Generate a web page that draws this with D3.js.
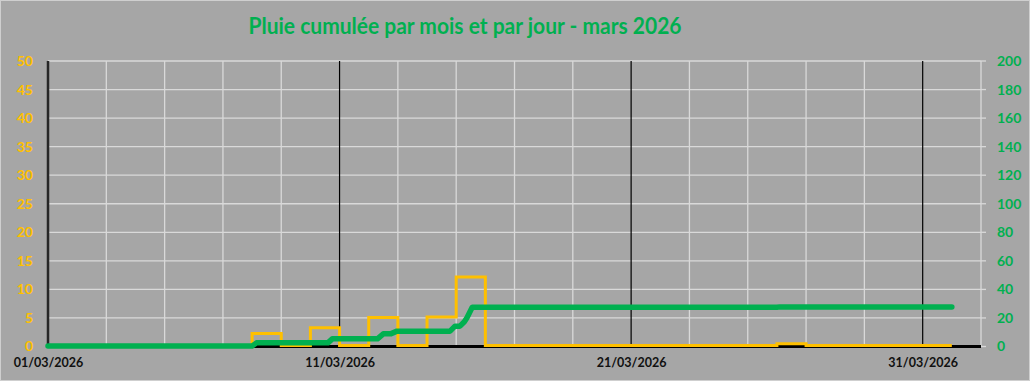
<!DOCTYPE html>
<html>
<head>
<meta charset="utf-8">
<script src="https://cdn.jsdelivr.net/npm/d3@7"></script>
<style>
  html, body { margin: 0; padding: 0; background: #a6a6a6; }
  svg { display: block; }
  text { font-family: Lato, "Open Sans", sans-serif; font-weight: bold; }
</style>
</head>
<body>
<svg id="chart"></svg>
<script>
// chart size
const width = 1030;
const height = 381;

// data
const titleText = 'Pluie cumulée par mois et par jour - mars 2026';
const dailyRain = [0, 0, 0, 0, 0, 0, 0, 2.1, 0, 3.1, 0, 4.9, 0, 5.0, 12.0,
    0, 0, 0, 0, 0, 0, 0, 0, 0, 0, 0.3, 0, 0, 0, 0, 0];
// cumulative rain: time in days since 01/03 and value in mm
const cumulTime = [0, 7.0, 7.15, 9.6, 9.75, 11.3, 11.5, 11.75, 11.97, 13.79, 13.96,
    14.13, 14.28, 14.37, 14.55, 25.0, 25.1, 31.0];
const cumulValue = [0, 0, 2.2, 2.2, 5.0, 5.0, 8.5, 8.5, 10.4, 10.4, 13.9,
    13.9, 17.0, 19.8, 27.1, 27.1, 27.4, 27.4];
const xTickDays = [0, 10, 20, 30];
const xTickLabels = ['01/03/2026', '11/03/2026', '21/03/2026', '31/03/2026'];
const leftTicks = d3.range(0, 55, 5);
const rightTicks = d3.range(0, 220, 20);

// plot area
const plot = { left: 48, right: 981, top: 61, bottom: 346.5 };

const xScale = d3.scaleLinear().domain([0, 32]).range([plot.left, plot.right]);
const yLeft = d3.scaleLinear().domain([0, 50]).range([plot.bottom, plot.top]);
const yRight = d3.scaleLinear().domain([0, 200]).range([plot.bottom, plot.top]);

const svg = d3.select('#chart')
    .attr('width', width)
    .attr('height', height);

// background + outer border
svg.append('rect')
    .attr('x', 0.5).attr('y', 0.5)
    .attr('width', width - 1).attr('height', height - 1)
    .attr('fill', '#a6a6a6')
    .attr('stroke', '#cfcfcf');

// title
svg.append('text')
    .attr('x', 465)
    .attr('y', 34)
    .attr('text-anchor', 'middle')
    .attr('font-size', 23)
    .attr('font-weight', 900)
    .attr('textLength', 433)
    .attr('lengthAdjust', 'spacingAndGlyphs')
    .attr('fill', '#00b050')
    .text(titleText);

// horizontal gridlines
svg.append('g')
    .selectAll('line')
    .data(leftTicks.filter(d => d > 0))
    .enter().append('line')
    .attr('x1', plot.left).attr('x2', plot.right)
    .attr('y1', d => yLeft(d)).attr('y2', d => yLeft(d))
    .attr('stroke', '#d9d9d9')
    .attr('stroke-width', 1.3);

// minor vertical gridlines every 2 days
svg.append('g')
    .selectAll('line')
    .data(d3.range(2, 32, 2).filter(d => d % 10 !== 0))
    .enter().append('line')
    .attr('x1', d => xScale(d)).attr('x2', d => xScale(d))
    .attr('y1', plot.top).attr('y2', plot.bottom)
    .attr('stroke', '#d9d9d9')
    .attr('stroke-width', 1.3);

// major vertical gridlines
svg.append('g')
    .selectAll('line')
    .data(xTickDays.filter(d => d > 0))
    .enter().append('line')
    .attr('x1', d => xScale(d)).attr('x2', d => xScale(d))
    .attr('y1', plot.top).attr('y2', plot.bottom)
    .attr('stroke', '#000')
    .attr('stroke-width', 1.2);

// right axis line with ticks
svg.append('line')
    .attr('x1', plot.right).attr('x2', plot.right)
    .attr('y1', plot.top).attr('y2', plot.bottom)
    .attr('stroke', '#d9d9d9')
    .attr('stroke-width', 1.3);
svg.append('g')
    .selectAll('line')
    .data(rightTicks)
    .enter().append('line')
    .attr('x1', plot.right).attr('x2', plot.right + 5)
    .attr('y1', d => yRight(d)).attr('y2', d => yRight(d))
    .attr('stroke', '#d9d9d9')
    .attr('stroke-width', 1.3);

// left axis line
svg.append('line')
    .attr('x1', plot.left).attr('x2', plot.left)
    .attr('y1', plot.top).attr('y2', plot.bottom + 1)
    .attr('stroke', '#262626')
    .attr('stroke-width', 2.5);

// bottom axis line
svg.append('line')
    .attr('x1', plot.left).attr('x2', plot.right)
    .attr('y1', plot.bottom).attr('y2', plot.bottom)
    .attr('stroke', '#000')
    .attr('stroke-width', 2.8);

// left axis labels
const leftAxis = svg.append('g')
    .attr('transform', `translate(${plot.left},0)`)
    .call(d3.axisLeft(yLeft).tickValues(leftTicks).tickSize(0).tickPadding(15));
leftAxis.select('.domain').remove();
leftAxis.selectAll('text')
    .attr('font-size', 14)
    .attr('font-family', 'Lato, sans-serif')
    .attr('fill', '#ffc000');

// right axis labels
const rightAxis = svg.append('g')
    .attr('transform', `translate(${plot.right},0)`)
    .call(d3.axisRight(yRight).tickValues(rightTicks).tickSize(0).tickPadding(16));
rightAxis.select('.domain').remove();
rightAxis.selectAll('text')
    .attr('font-size', 14)
    .attr('font-family', 'Lato, sans-serif')
    .attr('fill', '#00b050');

// bottom axis labels
const bottomAxis = svg.append('g')
    .attr('transform', `translate(0,${plot.bottom})`)
    .call(d3.axisBottom(xScale)
        .tickValues(xTickDays)
        .tickFormat((d, i) => xTickLabels[i])
        .tickSize(0)
        .tickPadding(12));
bottomAxis.select('.domain').remove();
bottomAxis.selectAll('text')
    .attr('font-size', 12.5)
    .attr('font-family', 'Lato, sans-serif')
    .attr('fill', '#111');

// daily rain as a step line (left axis)
const dailyPoints = dailyRain.map((v, i) => [i, v]);
dailyPoints.push([dailyRain.length, dailyRain[dailyRain.length - 1]]);

const stepLine = d3.line()
    .x(d => xScale(d[0]))
    .y(d => yLeft(d[1]) - 1)
    .curve(d3.curveStepAfter);

svg.append('path')
    .datum(dailyPoints)
    .attr('d', stepLine)
    .attr('fill', 'none')
    .attr('stroke', '#ffc000')
    .attr('stroke-width', 3);

// cumulative rain (right axis)
const cumulPoints = cumulTime.map((t, i) => [t, cumulValue[i]]);

const cumulLine = d3.line()
    .x(d => xScale(d[0]))
    .y(d => yRight(d[1]) - 0.5);

svg.append('path')
    .datum(cumulPoints)
    .attr('d', cumulLine)
    .attr('fill', 'none')
    .attr('stroke', '#00b050')
    .attr('stroke-width', 5.5)
    .attr('stroke-linecap', 'round')
    .attr('stroke-linejoin', 'round');
</script>
</body>
</html>
